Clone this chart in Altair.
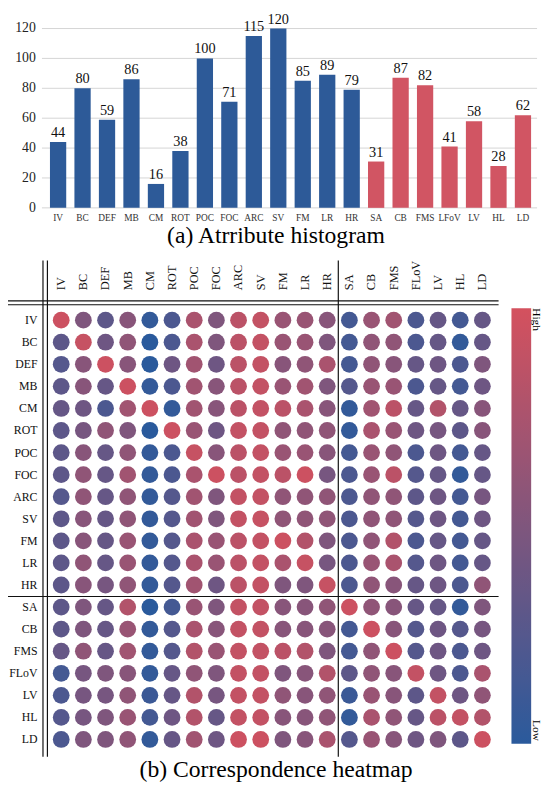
import altair as alt
import pandas as pd

SERIF = "Liberation Serif"
BLUE = "#2d5a98"
RED = "#d15563"
C_LOW = "#2a5a9c"
C_HIGH = "#d4515e"

# ---------------- data ----------------
hist_labels = ["IV", "BC", "DEF", "MB", "CM", "ROT", "POC", "FOC", "ARC", "SV",
               "FM", "LR", "HR", "SA", "CB", "FMS", "LFoV", "LV", "HL", "LD"]
hist_values = [44, 80, 59, 86, 16, 38, 100, 71, 115, 120,
               85, 89, 79, 31, 87, 82, 41, 58, 28, 62]
hist_groups = ["A", "A", "A", "A", "A", "A", "A", "A", "A", "A",
               "A", "A", "A", "B", "B", "B", "B", "B", "B", "B"]
y_ticks = [0, 20, 40, 60, 80, 100, 120]

heat_labels = ["IV", "BC", "DEF", "MB", "CM", "ROT", "POC", "FOC", "ARC", "SV",
               "FM", "LR", "HR", "SA", "CB", "FMS", "FLoV", "LV", "HL", "LD"]
heat_matrix = [
    [0.95, 0.5, 0.3, 0.55, 0.05, 0.2, 0.75, 0.5, 0.85, 0.9, 0.65, 0.65, 0.55, 0.15, 0.65, 0.7, 0.2, 0.35, 0.15, 0.35],
    [0.3, 0.92, 0.4, 0.6, 0.0, 0.2, 0.75, 0.5, 0.85, 0.9, 0.65, 0.65, 0.5, 0.15, 0.6, 0.6, 0.2, 0.35, 0.05, 0.35],
    [0.25, 0.55, 0.95, 0.55, 0.0, 0.4, 0.7, 0.4, 0.85, 0.9, 0.55, 0.6, 0.75, 0.15, 0.6, 0.55, 0.35, 0.4, 0.2, 0.5],
    [0.3, 0.55, 0.35, 0.95, 0.05, 0.2, 0.7, 0.55, 0.85, 0.9, 0.65, 0.7, 0.5, 0.25, 0.65, 0.65, 0.2, 0.35, 0.15, 0.4],
    [0.35, 0.4, 0.2, 0.7, 0.95, 0.05, 0.7, 0.55, 0.85, 0.9, 0.85, 0.75, 0.55, 0.05, 0.7, 0.85, 0.35, 0.8, 0.35, 0.55],
    [0.3, 0.45, 0.6, 0.5, 0.0, 0.95, 0.65, 0.4, 0.9, 0.9, 0.6, 0.6, 0.6, 0.05, 0.75, 0.65, 0.4, 0.45, 0.3, 0.55],
    [0.3, 0.55, 0.35, 0.6, 0.05, 0.2, 0.92, 0.55, 0.85, 0.9, 0.65, 0.65, 0.55, 0.15, 0.65, 0.6, 0.2, 0.4, 0.15, 0.35],
    [0.3, 0.6, 0.35, 0.7, 0.05, 0.2, 0.75, 0.95, 0.85, 0.9, 0.85, 0.95, 0.45, 0.2, 0.65, 0.85, 0.25, 0.35, 0.05, 0.35],
    [0.25, 0.6, 0.35, 0.6, 0.05, 0.25, 0.7, 0.5, 0.9, 0.9, 0.6, 0.6, 0.6, 0.2, 0.6, 0.6, 0.3, 0.4, 0.15, 0.45],
    [0.3, 0.55, 0.35, 0.6, 0.05, 0.25, 0.7, 0.5, 0.9, 0.92, 0.6, 0.6, 0.6, 0.2, 0.6, 0.6, 0.25, 0.4, 0.15, 0.4],
    [0.3, 0.55, 0.35, 0.65, 0.05, 0.25, 0.75, 0.65, 0.85, 0.9, 0.95, 0.8, 0.5, 0.2, 0.6, 0.8, 0.2, 0.35, 0.15, 0.35],
    [0.3, 0.6, 0.35, 0.65, 0.05, 0.25, 0.75, 0.65, 0.85, 0.9, 0.75, 0.92, 0.45, 0.2, 0.65, 0.75, 0.25, 0.4, 0.15, 0.35],
    [0.3, 0.55, 0.45, 0.6, 0.05, 0.25, 0.7, 0.4, 0.85, 0.9, 0.5, 0.5, 0.92, 0.2, 0.6, 0.55, 0.35, 0.4, 0.2, 0.6],
    [0.3, 0.5, 0.35, 0.8, 0.0, 0.15, 0.65, 0.5, 0.9, 0.9, 0.55, 0.55, 0.6, 0.95, 0.6, 0.55, 0.35, 0.35, 0.05, 0.5],
    [0.3, 0.5, 0.35, 0.65, 0.05, 0.25, 0.75, 0.55, 0.9, 0.9, 0.55, 0.55, 0.55, 0.15, 0.95, 0.55, 0.25, 0.4, 0.25, 0.45],
    [0.35, 0.6, 0.35, 0.7, 0.05, 0.25, 0.8, 0.65, 0.9, 0.9, 0.85, 0.8, 0.5, 0.15, 0.6, 0.95, 0.25, 0.4, 0.2, 0.4],
    [0.15, 0.45, 0.5, 0.55, 0.05, 0.35, 0.6, 0.5, 0.9, 0.9, 0.5, 0.55, 0.8, 0.3, 0.6, 0.55, 0.9, 0.4, 0.2, 0.75],
    [0.2, 0.45, 0.45, 0.6, 0.1, 0.35, 0.8, 0.45, 0.9, 0.9, 0.6, 0.55, 0.6, 0.1, 0.65, 0.55, 0.3, 0.9, 0.4, 0.6],
    [0.25, 0.45, 0.5, 0.65, 0.15, 0.4, 0.8, 0.35, 0.9, 0.9, 0.55, 0.55, 0.6, 0.05, 0.75, 0.6, 0.35, 0.85, 0.9, 0.8],
    [0.2, 0.5, 0.5, 0.6, 0.05, 0.35, 0.7, 0.4, 0.95, 0.95, 0.5, 0.55, 0.75, 0.25, 0.65, 0.55, 0.4, 0.5, 0.3, 0.95],
]

# ---------------- tables ----------------
hist_df = pd.DataFrame({"idx": list(range(len(hist_labels))), "label": hist_labels,
                        "value": hist_values, "group": hist_groups})
tick_df = pd.DataFrame({"tick": y_ticks})
heat_rows = []
for r, rl in enumerate(heat_labels):
    for c, cl in enumerate(heat_labels):
        heat_rows.append({"row": r, "col": c, "value": heat_matrix[r][c]})
heat_df = pd.DataFrame(heat_rows)
lab_df = pd.DataFrame({"idx": list(range(len(heat_labels))), "label": heat_labels})
one = pd.DataFrame({"k": [0]})

# ---------------- scales (plot area = whole 542x780 chart) ----------------
hx = alt.Scale(domain=[-1.8458, 19.577], nice=False, zero=False)
hy = alt.Scale(domain=[-384.40, 129.89], nice=False, zero=False)
mx = alt.Scale(domain=[-2.4, 21.6889], nice=False, zero=False)
my = alt.Scale(domain=[-13.8839, 20.9375], nice=False, zero=False, reverse=True)

# ---------------- histogram ----------------
grid = alt.Chart(tick_df).mark_rule(color="#d4d4d4", strokeWidth=1).encode(
    y=alt.Y("tick:Q", scale=hy, axis=None),
    x=alt.XDatum(-0.66, scale=hx, axis=None),
    x2=alt.X2Datum(19.577),
)
ytl = alt.Chart(tick_df).mark_text(font=SERIF, fontSize=14, align="right",
                                   baseline="middle", color="#222").encode(
    y=alt.Y("tick:Q", scale=hy, axis=None),
    x=alt.XDatum(-0.91, scale=hx, axis=None),
    text="tick:Q",
)
bars = alt.Chart(hist_df).mark_bar(size=16.5).encode(
    x=alt.X("idx:Q", scale=hx, axis=None),
    y=alt.Y("value:Q", scale=hy, axis=None),
    y2=alt.Y2Datum(0),
    color=alt.Color("group:N", scale=alt.Scale(domain=["A", "B"], range=[BLUE, RED]), legend=None),
)
blab = alt.Chart(hist_df).mark_text(font=SERIF, fontSize=14.5, dy=-5, baseline="alphabetic",
                                    color="#111").encode(
    x=alt.X("idx:Q", scale=hx, axis=None),
    y=alt.Y("value:Q", scale=hy, axis=None),
    text="value:Q",
)
xlab = alt.Chart(hist_df).mark_text(font=SERIF, fontSize=9.5, baseline="middle", color="#333").encode(
    x=alt.X("idx:Q", scale=hx, axis=None),
    y=alt.YDatum(-6.59, scale=hy, axis=None),
    text="label:N",
)
cap_a = alt.Chart(one).mark_text(font=SERIF, fontSize=24, baseline="alphabetic", color="#000",
                                 text="(a) Atrribute histogram").encode(
    x=alt.XDatum(8.905, scale=hx, axis=None),
    y=alt.YDatum(-23.74, scale=hy, axis=None),
)
hist = alt.layer(grid, ytl, bars, blab, xlab, cap_a)

# ---------------- heatmap ----------------
circles = alt.Chart(heat_df).mark_circle(size=290, opacity=1).encode(
    x=alt.X("col:Q", scale=mx, axis=None),
    y=alt.Y("row:Q", scale=my, axis=None),
    color=alt.Color("value:Q",
                    scale=alt.Scale(domain=[0, 1], range=[C_LOW, C_HIGH], interpolate="rgb"),
                    title=None,
                    legend=alt.Legend(orient="none", legendX=511, legendY=299, direction="vertical",
                                      gradientLength=442, gradientThickness=20, labelExpr="''",
                                      labelFontSize=1, gradientStrokeWidth=0, padding=0)),
)
rlab = alt.Chart(lab_df).mark_text(font=SERIF, fontSize=12, align="right", baseline="middle",
                                   color="#111").encode(
    x=alt.XDatum(-1.07, scale=mx, axis=None),
    y=alt.Y("idx:Q", scale=my, axis=None),
    text="label:N",
)
clab = alt.Chart(lab_df).mark_text(font=SERIF, fontSize=12.5, align="left", baseline="middle",
                                   angle=270, color="#111").encode(
    x=alt.X("idx:Q", scale=mx, axis=None),
    y=alt.YDatum(-1.36, scale=my, axis=None),
    text="label:N",
)

def vline(xv, sw=1.2):
    return alt.Chart(one).mark_rule(color="#111", strokeWidth=sw).encode(
        x=alt.XDatum(xv, scale=mx, axis=None),
        y=alt.YDatum(-2.70, scale=my, axis=None),
        y2=alt.Y2Datum(19.78),
    )

def hline(yv, sw=1.2):
    return alt.Chart(one).mark_rule(color="#111", strokeWidth=sw).encode(
        y=alt.YDatum(yv, scale=my, axis=None),
        x=alt.XDatum(-2.4, scale=mx, axis=None),
        x2=alt.X2Datum(19.73),
    )

lines = [vline(-0.822), vline(-0.622), vline(12.5), hline(-0.87), hline(-0.70), hline(12.52)]

high = alt.Chart(one).mark_text(font=SERIF, fontSize=11.5, angle=90, align="left",
                                baseline="alphabetic", text="High").encode(
    x=alt.XDatum(21.29, scale=mx, axis=None),
    y=alt.YDatum(-0.54, scale=my, axis=None),
)
low = alt.Chart(one).mark_text(font=SERIF, fontSize=11.5, angle=90, align="right",
                               baseline="alphabetic", text="Low").encode(
    x=alt.XDatum(21.29, scale=mx, axis=None),
    y=alt.YDatum(19.06, scale=my, axis=None),
)
cap_b = alt.Chart(one).mark_text(font=SERIF, fontSize=24, baseline="alphabetic", color="#000",
                                 text="(b) Correspondence heatmap").encode(
    x=alt.XDatum(9.69, scale=mx, axis=None),
    y=alt.YDatum(20.71, scale=my, axis=None),
)
heat = alt.layer(circles, rlab, clab, *lines, high, low, cap_b)

chart = alt.layer(hist, heat).resolve_scale(
    x="independent", y="independent", color="independent"
).properties(
    width=542, height=780, padding=0,
    autosize=alt.AutoSizeParams(type="none"),
).configure_view(stroke=None)

chart.save("out.html", embed_options={"renderer": "svg", "actions": False})
